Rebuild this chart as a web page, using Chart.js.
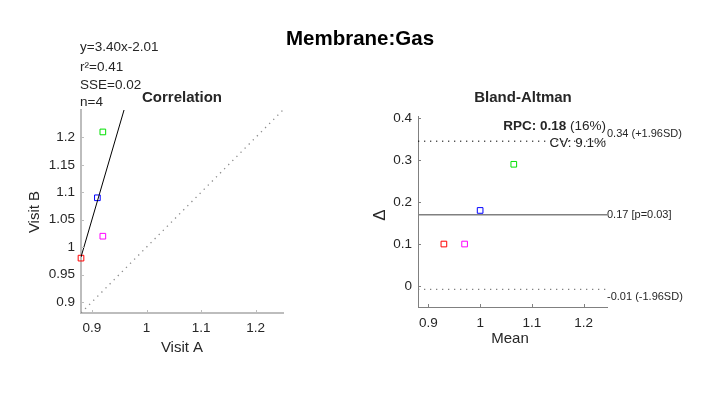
<!DOCTYPE html>
<html>
<head>
<meta charset="utf-8">
<script src="https://cdn.jsdelivr.net/npm/chart.js@4"></script>
<style>
    body { margin: 0; background: #fff; }
    #wrap { position: relative; width: 720px; height: 405px; overflow: hidden; }
    canvas { position: absolute; top: 0; }
    #corrCanvas { left: 0; }
    #baCanvas { left: 360px; }
    #figTitle {
        position: absolute; left: 0; width: 720px; top: 26px; text-align: center;
        font: bold 20.5px "Liberation Sans", Arial, sans-serif; color: #000;
    }
</style>
</head>
<body>
<div id="wrap">
    <canvas id="corrCanvas" width="360" height="405"></canvas>
    <canvas id="baCanvas" width="360" height="405"></canvas>
    <div id="figTitle">Membrane:Gas</div>
</div>
<script>
// data
const visitA = [0.88, 0.91, 0.92, 0.92];
const visitB = [0.98, 1.09, 1.21, 1.02];
const pointColors = ['#ff0000', '#0000ff', '#00e000', '#ff00ff'];

const fitSlope = 3.40;
const fitIntercept = -2.01;
const fitLines = ['y=3.40x-2.01', 'r\u00b2=0.41', 'SSE=0.02', 'n=4'];

const corrRange = [0.88, 1.25];
const corrTicksX = [0.9, 1, 1.1, 1.2];
const corrTicksY = [0.9, 0.95, 1, 1.05, 1.1, 1.15, 1.2];

const baRangeX = [0.88, 1.245];
const baRangeY = [-0.05, 0.405];
const baTicksX = [0.9, 1, 1.1, 1.2];
const baTicksY = [0, 0.1, 0.2, 0.3, 0.4];
const baMean = 0.17;
const baUpper = 0.345;
const baLower = -0.008;
const baLabels = ['0.34 (+1.96SD)', '0.17 [p=0.03]', '-0.01 (-1.96SD)'];

const FONT = '"Liberation Sans", Arial, sans-serif';
const TXT = '#262626';
Chart.defaults.font.family = FONT;
Chart.defaults.color = TXT;

const corrPoints = visitA.map((a, i) => ({ x: a, y: visitB[i] }));
const baPoints = visitA.map((a, i) => ({ x: (a + visitB[i]) / 2, y: visitB[i] - a }));

function fixedTicks(list) {
    return function(scale) { scale.ticks = list.map(v => ({ value: v })); };
}

function inwardTicks(chart, color) {
    const ctx = chart.ctx, x = chart.scales.x, y = chart.scales.y;
    ctx.save();
    ctx.strokeStyle = color;
    ctx.lineWidth = 1;
    ctx.beginPath();
    x.ticks.forEach(t => {
        const px = Math.round(x.getPixelForValue(t.value)) + 0.5;
        ctx.moveTo(px, x.top); ctx.lineTo(px, x.top - 3);
    });
    y.ticks.forEach(t => {
        const py = Math.round(y.getPixelForValue(t.value)) + 0.5;
        ctx.moveTo(y.right, py); ctx.lineTo(y.right + 3, py);
    });
    ctx.stroke();
    ctx.restore();
}

function text(ctx, s, x, y, font, align, rot) {
    ctx.save();
    ctx.font = font;
    ctx.fillStyle = TXT;
    ctx.textAlign = align || 'center';
    ctx.textBaseline = 'middle';
    ctx.translate(x, y);
    if (rot) ctx.rotate(rot);
    ctx.fillText(s, 0, 0);
    ctx.restore();
}

function pointSet(data) {
    return {
        data: data,
        pointStyle: 'rect',
        pointRadius: 4,
        pointBorderWidth: 1,
        pointBorderColor: pointColors,
        pointBackgroundColor: 'rgba(0,0,0,0)',
        clip: false
    };
}

function lineSet(data, color, width, dash) {
    return {
        data: data,
        showLine: true,
        pointRadius: 0,
        borderColor: color,
        borderWidth: width,
        borderDash: dash || []
    };
}

function axis(min, max, ticks, borderColor, borderWidth, size, pad) {
    return {
        type: 'linear', min: min, max: max,
        afterBuildTicks: fixedTicks(ticks),
        afterFit: function(scale) {
            if (scale.isHorizontal()) scale.height = size; else scale.width = size;
        },
        grid: { display: false, drawTicks: false },
        border: { display: true, color: borderColor, width: borderWidth },
        ticks: { padding: pad, font: { size: 13.5 }, color: TXT, callback: v => String(v) }
    };
}

// ---- Correlation ----
const corrText = {
    id: 'corrText',
    afterDraw(chart) {
        const ctx = chart.ctx;
        inwardTicks(chart, '#bdbdbd');
        const ys = [47, 67, 85, 102];
        fitLines.forEach((s, i) => text(ctx, s, 80, ys[i], '13.5px ' + FONT, 'left'));
        text(ctx, 'Correlation', 182, 98, 'bold 15px ' + FONT);
        text(ctx, 'Visit A', 182, 348, '15px ' + FONT);
        text(ctx, 'Visit B', 35, 212, '15px ' + FONT, 'center', -Math.PI / 2);
    }
};

const fitEndX = (corrRange[1] - fitIntercept) / fitSlope;
const fitStartX = Math.min(...visitA);

new Chart(document.getElementById('corrCanvas'), {
    type: 'scatter',
    data: {
        datasets: [
            lineSet([{ x: corrRange[0], y: corrRange[0] }, { x: corrRange[1], y: corrRange[1] }], '#8c8c8c', 1.3, [1.3, 4.5]),
            lineSet([{ x: fitStartX, y: fitSlope * fitStartX + fitIntercept },
                     { x: fitEndX, y: fitSlope * fitEndX + fitIntercept }], '#000', 1),
            pointSet(corrPoints)
        ]
    },
    options: {
        responsive: false,
        animation: false,
        layout: { padding: { left: 0, top: 110, right: 77, bottom: 0 } },
        plugins: { legend: { display: false }, tooltip: { enabled: false } },
        scales: {
            x: axis(corrRange[0], corrRange[1], corrTicksX, '#bdbdbd', 2, 92, 7),
            y: axis(corrRange[0], corrRange[1], corrTicksY, '#bdbdbd', 2, 81, 6)
        }
    },
    plugins: [corrText]
});

// ---- Bland-Altman ----
const baText = {
    id: 'baText',
    afterDraw(chart) {
        const ctx = chart.ctx, y = chart.scales.y, right = chart.chartArea.right;
        inwardTicks(chart, '#808080');
        text(ctx, 'Bland-Altman', 163, 98, 'bold 15px ' + FONT);

        // RPC line: bold part + normal part, right aligned
        ctx.save();
        ctx.font = '13.5px ' + FONT;
        const tail = ' (16%)';
        const tailW = ctx.measureText(tail).width;
        ctx.restore();
        text(ctx, tail, right - 1, 126, '13.5px ' + FONT, 'right');
        text(ctx, 'RPC: 0.18', right - 1 - tailW, 126, 'bold 13.5px ' + FONT, 'right');
        text(ctx, 'CV: 9.1%', right - 1, 143, '13.5px ' + FONT, 'right');

        text(ctx, baLabels[0], right, y.getPixelForValue(baUpper) - 7, '11px ' + FONT, 'left');
        text(ctx, baLabels[1], right, y.getPixelForValue(baMean), '11px ' + FONT, 'left');
        text(ctx, baLabels[2], right, y.getPixelForValue(baLower) + 8, '11px ' + FONT, 'left');

        text(ctx, 'Mean', 150, 339, '15px ' + FONT);
        text(ctx, '\u0394', 20, 215, '17px ' + FONT, 'center', -Math.PI / 2);
    }
};

new Chart(document.getElementById('baCanvas'), {
    type: 'scatter',
    data: {
        datasets: [
            lineSet([{ x: baRangeX[0], y: baUpper }, { x: baRangeX[1], y: baUpper }], '#000', 1, [1.3, 4.7]),
            lineSet([{ x: baRangeX[0], y: baMean }, { x: baRangeX[1], y: baMean }], '#808080', 1.5),
            lineSet([{ x: baRangeX[0], y: baLower }, { x: baRangeX[1], y: baLower }], '#808080', 1.3, [1.3, 4.7]),
            pointSet(baPoints)
        ]
    },
    options: {
        responsive: false,
        animation: false,
        layout: { padding: { left: 0, top: 116, right: 113, bottom: 0 } },
        plugins: { legend: { display: false }, tooltip: { enabled: false } },
        scales: {
            x: axis(baRangeX[0], baRangeX[1], baTicksX, '#808080', 1, 98, 8),
            y: axis(baRangeY[0], baRangeY[1], baTicksY, '#808080', 1, 58, 6)
        }
    },
    plugins: [baText]
});
</script>
</body>
</html>
